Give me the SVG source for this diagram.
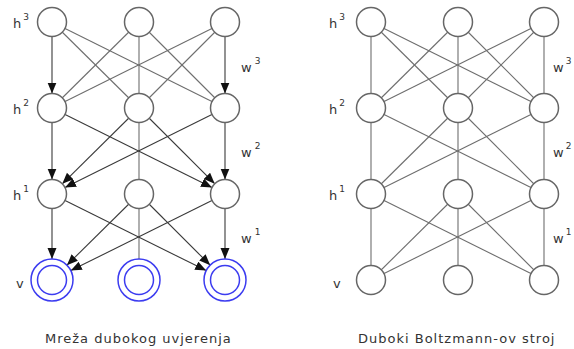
<svg xmlns="http://www.w3.org/2000/svg" width="574" height="349" viewBox="0 0 574 349">
<style>
.bg{fill:#ffffff}
.ln{stroke:#6e6e6e;stroke-width:1.1;fill:none}
.ar{stroke:#3a3a3a;stroke-width:1.1;fill:none;marker-end:url(#ah)}
.nd{fill:#fff;stroke:#666;stroke-width:1.5}
.vb{fill:#fff;stroke:#3c3cf0;stroke-width:1.5}
.lb{font-family:"DejaVu Sans",Verdana,sans-serif;font-size:13px;fill:#333}
.sp{font-size:9px}
.cap{font-family:"DejaVu Sans",Verdana,sans-serif;font-size:13px;fill:#333;letter-spacing:1px}
</style>
<defs>
<marker id="ah" markerUnits="userSpaceOnUse" markerWidth="12" markerHeight="10" refX="11" refY="4.5" orient="auto">
<path d="M0,0 L11,4.5 L0,9 z" fill="#111"/>
</marker>
</defs>
<rect class="bg" x="0" y="0" width="574" height="349"/>
<g id="connectors">
<line class="ln" x1="52" y1="22" x2="139" y2="108"/>
<line class="ln" x1="52" y1="22" x2="225" y2="108"/>
<line class="ln" x1="139" y1="22" x2="52" y2="108"/>
<line class="ln" x1="139" y1="22" x2="139" y2="108"/>
<line class="ln" x1="139" y1="22" x2="225" y2="108"/>
<line class="ln" x1="225" y1="22" x2="52" y2="108"/>
<line class="ln" x1="225" y1="22" x2="139" y2="108"/>
<line class="ar" x1="52" y1="30" x2="52" y2="93.5"/>
<line class="ar" x1="225" y1="30" x2="225" y2="93.5"/>
<line class="ln" x1="139" y1="108" x2="139" y2="194"/>
<line class="ar" x1="52" y1="116" x2="52" y2="179.5"/>
<line class="ar" x1="225" y1="116" x2="225" y2="179.5"/>
<line class="ar" x1="139" y1="108" x2="62.3" y2="183.8"/>
<line class="ar" x1="225" y1="108" x2="65" y2="187.5"/>
<line class="ar" x1="52" y1="108" x2="212" y2="187.5"/>
<line class="ar" x1="139" y1="108" x2="214.7" y2="183.7"/>
<line class="ln" x1="139" y1="194" x2="139" y2="280"/>
<line class="ar" x1="52" y1="202" x2="52" y2="259"/>
<line class="ar" x1="225" y1="202" x2="225" y2="259"/>
<line class="ar" x1="139" y1="194" x2="66.9" y2="265.2"/>
<line class="ar" x1="225" y1="194" x2="70.8" y2="270.6"/>
<line class="ar" x1="52" y1="194" x2="206.2" y2="270.6"/>
<line class="ar" x1="139" y1="194" x2="210.2" y2="265.2"/>
<line class="ln" x1="371" y1="22" x2="371" y2="108"/>
<line class="ln" x1="371" y1="22" x2="458" y2="108"/>
<line class="ln" x1="371" y1="22" x2="544" y2="108"/>
<line class="ln" x1="458" y1="22" x2="371" y2="108"/>
<line class="ln" x1="458" y1="22" x2="458" y2="108"/>
<line class="ln" x1="458" y1="22" x2="544" y2="108"/>
<line class="ln" x1="544" y1="22" x2="371" y2="108"/>
<line class="ln" x1="544" y1="22" x2="458" y2="108"/>
<line class="ln" x1="544" y1="22" x2="544" y2="108"/>
<line class="ln" x1="371" y1="108" x2="371" y2="194"/>
<line class="ln" x1="371" y1="108" x2="544" y2="194"/>
<line class="ln" x1="458" y1="108" x2="371" y2="194"/>
<line class="ln" x1="458" y1="108" x2="458" y2="194"/>
<line class="ln" x1="458" y1="108" x2="544" y2="194"/>
<line class="ln" x1="544" y1="108" x2="371" y2="194"/>
<line class="ln" x1="544" y1="108" x2="544" y2="194"/>
<line class="ln" x1="371" y1="194" x2="371" y2="280"/>
<line class="ln" x1="371" y1="194" x2="544" y2="280"/>
<line class="ln" x1="458" y1="194" x2="371" y2="280"/>
<line class="ln" x1="458" y1="194" x2="458" y2="280"/>
<line class="ln" x1="458" y1="194" x2="544" y2="280"/>
<line class="ln" x1="544" y1="194" x2="371" y2="280"/>
<line class="ln" x1="544" y1="194" x2="544" y2="280"/>
</g>
<g id="dbn-h3-1"><circle class="nd" cx="52" cy="22" r="14.5"/></g>
<g id="dbn-h3-2"><circle class="nd" cx="139" cy="22" r="14.5"/></g>
<g id="dbn-h3-3"><circle class="nd" cx="225" cy="22" r="14.5"/></g>
<g id="dbn-h2-1"><circle class="nd" cx="52" cy="108" r="14.5"/></g>
<g id="dbn-h2-2"><circle class="nd" cx="139" cy="108" r="14.5"/></g>
<g id="dbn-h2-3"><circle class="nd" cx="225" cy="108" r="14.5"/></g>
<g id="dbn-h1-1"><circle class="nd" cx="52" cy="194" r="14.5"/></g>
<g id="dbn-h1-2"><circle class="nd" cx="139" cy="194" r="14.5"/></g>
<g id="dbn-h1-3"><circle class="nd" cx="225" cy="194" r="14.5"/></g>
<g id="dbn-v-1"><circle class="vb" cx="52" cy="280" r="21"/><circle class="vb" cx="52" cy="280" r="14.5"/></g>
<g id="dbn-v-2"><circle class="vb" cx="139" cy="280" r="21"/><circle class="vb" cx="139" cy="280" r="14.5"/></g>
<g id="dbn-v-3"><circle class="vb" cx="225" cy="280" r="21"/><circle class="vb" cx="225" cy="280" r="14.5"/></g>
<g id="dbm-h3-1"><circle class="nd" cx="371" cy="22" r="14.5"/></g>
<g id="dbm-h3-2"><circle class="nd" cx="458" cy="22" r="14.5"/></g>
<g id="dbm-h3-3"><circle class="nd" cx="544" cy="22" r="14.5"/></g>
<g id="dbm-h2-1"><circle class="nd" cx="371" cy="108" r="14.5"/></g>
<g id="dbm-h2-2"><circle class="nd" cx="458" cy="108" r="14.5"/></g>
<g id="dbm-h2-3"><circle class="nd" cx="544" cy="108" r="14.5"/></g>
<g id="dbm-h1-1"><circle class="nd" cx="371" cy="194" r="14.5"/></g>
<g id="dbm-h1-2"><circle class="nd" cx="458" cy="194" r="14.5"/></g>
<g id="dbm-h1-3"><circle class="nd" cx="544" cy="194" r="14.5"/></g>
<g id="dbm-v-1"><circle class="nd" cx="371" cy="280" r="14.5"/></g>
<g id="dbm-v-2"><circle class="nd" cx="458" cy="280" r="14.5"/></g>
<g id="dbm-v-3"><circle class="nd" cx="544" cy="280" r="14.5"/></g>
<g id="labels">
<text class="lb" x="13" y="28">h<tspan class="sp" dx="2" dy="-8">3</tspan></text>
<text class="lb" x="13" y="114">h<tspan class="sp" dx="2" dy="-8">2</tspan></text>
<text class="lb" x="13" y="200">h<tspan class="sp" dx="2" dy="-8">1</tspan></text>
<text class="lb" x="16" y="288">v</text>
<text class="lb" x="241" y="72">w<tspan class="sp" dx="3" dy="-8">3</tspan></text>
<text class="lb" x="241" y="157">w<tspan class="sp" dx="3" dy="-8">2</tspan></text>
<text class="lb" x="241" y="243">w<tspan class="sp" dx="3" dy="-8">1</tspan></text>
<text class="lb" x="329" y="28">h<tspan class="sp" dx="2" dy="-8">3</tspan></text>
<text class="lb" x="329" y="114">h<tspan class="sp" dx="2" dy="-8">2</tspan></text>
<text class="lb" x="329" y="200">h<tspan class="sp" dx="2" dy="-8">1</tspan></text>
<text class="lb" x="333" y="288">v</text>
<text class="lb" x="553" y="72">w<tspan class="sp" dx="2" dy="-8">3</tspan></text>
<text class="lb" x="553" y="157">w<tspan class="sp" dx="2" dy="-8">2</tspan></text>
<text class="lb" x="553" y="243">w<tspan class="sp" dx="2" dy="-8">1</tspan></text>
<text class="cap" x="45" y="343">Mreža dubokog uvjerenja</text>
<text class="cap" x="358" y="343">Duboki Boltzmann-ov stroj</text>
</g>
</svg>
